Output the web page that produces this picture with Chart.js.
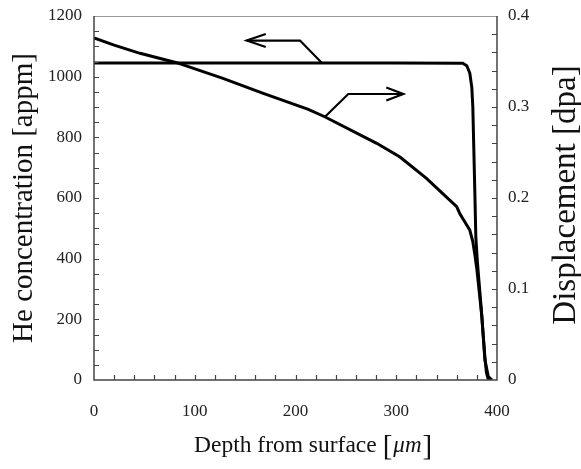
<!DOCTYPE html>
<html>
<head>
<meta charset="utf-8">
<script src="https://cdn.jsdelivr.net/npm/chart.js@4/dist/chart.umd.min.js"></script>
<style>
  html, body { margin: 0; padding: 0; background: #ffffff; }
  #wrap { width: 581px; height: 469px; position: relative; }
</style>
</head>
<body>
<div id="wrap"><canvas id="c"></canvas></div>
<script>
// ---- data ----
const heDepth = [0, 100, 200, 300, 366, 370, 373, 375, 376, 377, 378, 379, 380.5, 382, 384, 386, 388, 389.5, 391, 393];
const heConc  = [1045, 1045, 1045, 1045, 1044, 1036, 1012, 965, 900, 760, 620, 470, 390, 330, 250, 160, 75, 25, 5, 0];

const dpaDepth = [0, 20, 45.7, 82, 128, 168, 212.7, 229, 280.6, 303.7, 330, 360, 363, 373, 376, 378, 380, 385, 388, 391.4, 395];
const dpaValue = [0.376, 0.368, 0.359, 0.3487, 0.3315, 0.315, 0.2975, 0.2893, 0.2601, 0.245, 0.2216, 0.1904, 0.183, 0.1648, 0.152, 0.138, 0.122, 0.0696, 0.022, 0.0036, 0];

const xTicks  = [0, 100, 200, 300, 400];
const yTicks  = [0, 200, 400, 600, 800, 1000, 1200];
const y2Ticks = [0, 0.1, 0.2, 0.3, 0.4];

// annotation arrows (data units): He arrow on left axis, dpa arrow on right axis
const heArrow  = [[226, 1046], [204.5, 1119], [151.6, 1119]];
const dpaArrow = [[229.3, 0.2893], [252.4, 0.3143], [307, 0.3143]];

const xTitleMain = 'Depth from surface';
const xTitleUnit = '\u03BCm';
const yTitle  = 'He concentration [appm]';
const y2Title = 'Displacement [dpa]';

const serif = '"Liberation Serif", "DejaVu Serif", serif';

const heData  = heDepth.map((d, i) => ({ x: d, y: heConc[i] }));
const dpaData = dpaDepth.map((d, i) => ({ x: d, y: dpaValue[i] }));

const decor = {
  id: 'decor',
  afterDatasetsDraw(chart) {
    const ctx = chart.ctx;
    const a = chart.chartArea;
    const xs = chart.scales.x, ys = chart.scales.y, y2 = chart.scales.y2;
    ctx.save();
    // frame
    ctx.lineCap = 'butt';
    ctx.strokeStyle = '#999';
    ctx.lineWidth = 1;
    ctx.beginPath(); ctx.moveTo(a.left, a.top + 0.5); ctx.lineTo(a.right, a.top + 0.5); ctx.stroke();
    ctx.strokeStyle = '#444';
    ctx.lineWidth = 1.5;
    ctx.beginPath();
    ctx.moveTo(a.left, a.top); ctx.lineTo(a.left, a.bottom); ctx.lineTo(a.right, a.bottom); ctx.lineTo(a.right, a.top);
    ctx.stroke();
    // inward ticks
    ctx.lineWidth = 1.2;
    ctx.beginPath();
    for (let v = 50; v < 1200; v += 50) {
      const p = Math.round(ys.getPixelForValue(v)) + 0.5;
      ctx.moveTo(a.left, p); ctx.lineTo(a.left + 5, p);
    }
    for (let k = 1; k < 20; k++) {
      const p = Math.round(y2.getPixelForValue(k * 0.02)) + 0.5;
      ctx.moveTo(a.right, p); ctx.lineTo(a.right - 5, p);
    }
    for (let v = 20; v < 400; v += 20) {
      const p = Math.round(xs.getPixelForValue(v)) + 0.5;
      ctx.moveTo(p, a.bottom); ctx.lineTo(p, a.bottom - 5);
    }
    ctx.stroke();
    // arrows
    function arrow(pts, yscale, headLen) {
      const px = pts.map(p => [xs.getPixelForValue(p[0]), yscale.getPixelForValue(p[1])]);
      ctx.strokeStyle = '#000';
      ctx.lineWidth = 2.2;
      ctx.lineJoin = 'miter';
      ctx.beginPath();
      ctx.moveTo(px[0][0], px[0][1]);
      for (let i = 1; i < px.length; i++) ctx.lineTo(px[i][0], px[i][1]);
      ctx.stroke();
      const tip = px[px.length - 1], prev = px[px.length - 2];
      const dir = Math.sign(tip[0] - prev[0]);
      ctx.beginPath();
      ctx.moveTo(tip[0] - dir * headLen, tip[1] - 6.5);
      ctx.lineTo(tip[0], tip[1]);
      ctx.lineTo(tip[0] - dir * headLen, tip[1] + 6.5);
      ctx.stroke();
    }
    arrow(heArrow, ys, 19);
    arrow(dpaArrow, y2, 17);

    // x axis title: "Depth from surface [μm]" (unit italic, tall brackets)
    ctx.fillStyle = '#111';
    ctx.textAlign = 'left';
    ctx.textBaseline = 'alphabetic';
    let cx = 194;
    const base = 452;
    ctx.font = '23.5px ' + serif;
    ctx.fillText(xTitleMain, cx, base);
    cx += ctx.measureText(xTitleMain).width + 6;
    ctx.font = '29px ' + serif;
    ctx.fillText('[', cx, base + 3);
    cx += ctx.measureText('[').width + 1;
    ctx.font = 'italic 23px ' + serif;
    ctx.fillText(xTitleUnit, cx, base);
    cx += ctx.measureText(xTitleUnit).width + 1;
    ctx.font = '29px ' + serif;
    ctx.fillText(']', cx, base + 3);

    // right axis title (reads bottom to top)
    ctx.font = '33px ' + serif;
    ctx.textAlign = 'center';
    ctx.textBaseline = 'middle';
    ctx.translate(566, 195);
    ctx.rotate(-Math.PI / 2);
    ctx.fillText(y2Title, 0, 0);
    ctx.restore();
  }
};

function fitV(w) {
  return s => { s.width = w; s.paddingTop = 0; s.paddingBottom = 0; };
}

const chart = new Chart(document.getElementById('c'), {
  type: 'line',
  data: {
    datasets: [
      { label: 'He', data: heData, yAxisID: 'y', borderColor: '#000', borderWidth: 3, pointRadius: 0, tension: 0, fill: false },
      { label: 'dpa', data: dpaData, yAxisID: 'y2', borderColor: '#000', borderWidth: 3, pointRadius: 0, tension: 0, fill: false }
    ]
  },
  options: {
    responsive: true,
    maintainAspectRatio: false,
    animation: false,
    devicePixelRatio: 1,
    layout: { padding: { top: 16, left: 0, right: 0, bottom: 0 } },
    plugins: { legend: { display: false }, tooltip: { enabled: false } },
    scales: {
      x: {
        type: 'linear', min: 0, max: 400,
        afterBuildTicks: s => { s.ticks = xTicks.map(v => ({ value: v })); },
        afterFit: s => { s.height = 89; s.paddingLeft = 0; s.paddingRight = 0; },
        grid: { drawOnChartArea: false, drawTicks: false },
        border: { display: false },
        ticks: { padding: 21, color: '#222', font: { family: serif, size: 17 }, maxRotation: 0, callback: v => String(v) }
      },
      y: {
        type: 'linear', position: 'left', min: 0, max: 1200,
        afterBuildTicks: s => { s.ticks = yTicks.map(v => ({ value: v })); },
        afterFit: fitV(94),
        grid: { drawOnChartArea: false, drawTicks: false },
        border: { display: false },
        ticks: { padding: 12, color: '#222', font: { family: serif, size: 17 }, callback: v => String(v) },
        title: { display: true, text: yTitle, color: '#111', font: { family: serif, size: 29 }, padding: { top: 7, bottom: 0 } }
      },
      y2: {
        type: 'linear', position: 'right', min: 0, max: 0.4,
        afterBuildTicks: s => { s.ticks = y2Ticks.map(v => ({ value: v })); },
        afterFit: fitV(84),
        grid: { drawOnChartArea: false, drawTicks: false },
        border: { display: false },
        ticks: { padding: 11, color: '#222', font: { family: serif, size: 17 }, callback: v => String(Math.round(v * 10) / 10) }
      }
    }
  },
  plugins: [decor]
});
</script>
</body>
</html>
